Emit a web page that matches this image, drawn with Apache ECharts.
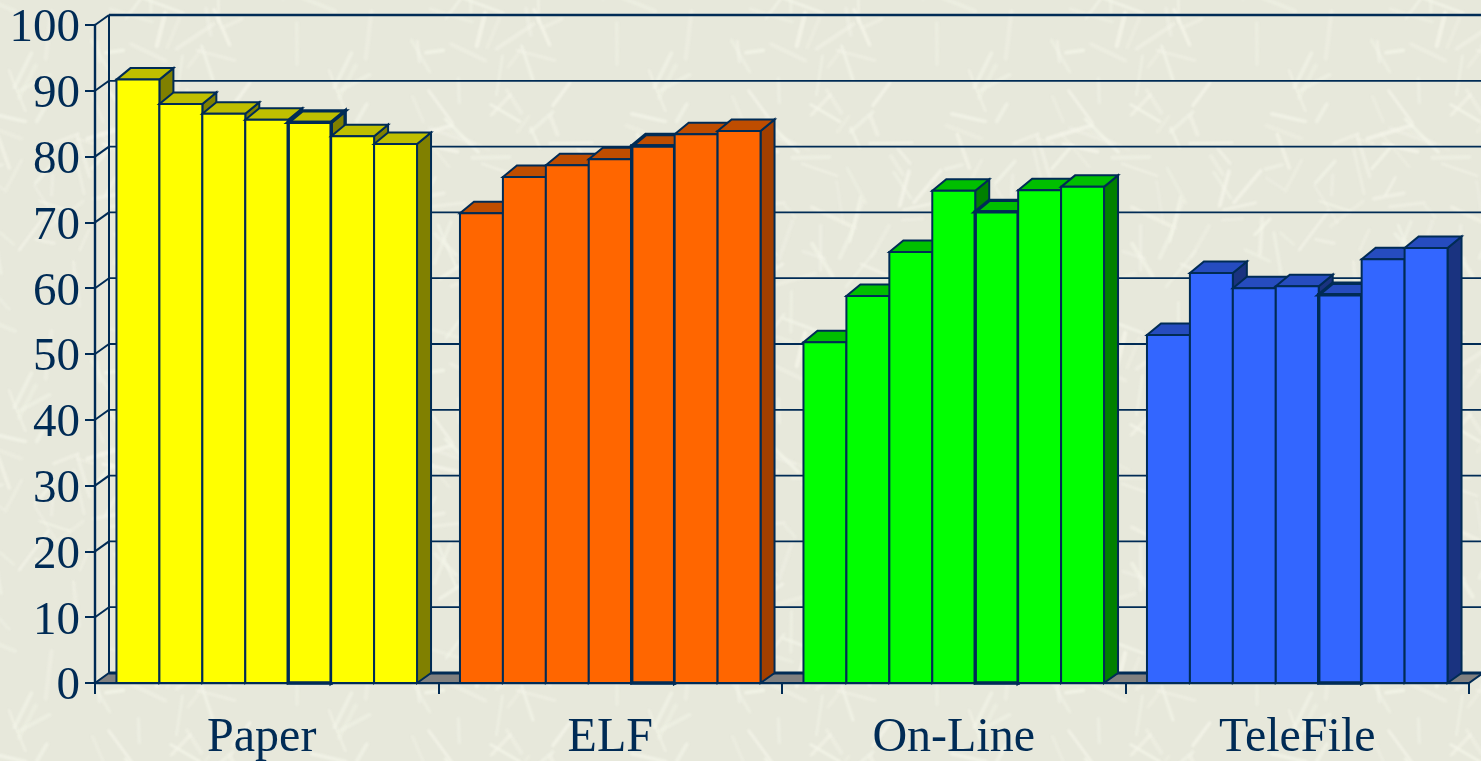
<!DOCTYPE html>
<html>
<head>
<meta charset="utf-8">
<style>html,body{margin:0;padding:0;background:#e9eadd;overflow:hidden}#c{width:1481px;height:761px}</style>
<script src="https://cdn.jsdelivr.net/npm/echarts@6/dist/echarts.min.js"></script>
</head>
<body>
<div id="c"></div>
<script>
var categories = ['Paper', 'ELF', 'On-Line', 'TeleFile'];
var paper = [91.7, 88.0, 86.5, 85.6, 85.2, 83.1, 81.9];
var elf = [71.4, 76.9, 78.7, 79.6, 81.6, 83.4, 83.9];
var onLine = [51.8, 58.8, 65.5, 74.8, 71.6, 74.9, 75.4];
var teleFile = [52.9, 62.3, 60.0, 60.3, 59.0, 64.4, 66.1];
var yTicks = [0, 10, 20, 30, 40, 50, 60, 70, 80, 90, 100];
var highlightedBar = 4;

var faceColors = [
  ['#FFFF00', '#BFBF00', '#808000'],
  ['#FF6600', '#BF4D00', '#A33F00'],
  ['#00FF00', '#00BF00', '#008000'],
  ['#3366FF', '#264CBF', '#1A3380']
];
var ink = '#002B55';
var depthX = 14, depthY = 10, barDepthY = 11.5;

// Decorative woven-stick wallpaper tile
function makeTile() {
  var size = 320, cv = document.createElement('canvas');
  cv.width = cv.height = size;
  var g = cv.getContext('2d');
  g.fillStyle = '#E7E8DB';
  g.fillRect(0, 0, size, size);
  var s = 12345;
  function r() { s = (s * 1103515 + 12345) % 2147483648; return s / 2147483648; }
  g.lineCap = 'round';
  g.filter = 'blur(1px)';
  for (var i = 0; i < 105; i++) {
    var x = r() * size, y = r() * size, a = r() * Math.PI * 2, l = 14 + r() * 34;
    g.strokeStyle = 'rgba(245,246,234,' + (0.3 + r() * 0.45) + ')';
    g.lineWidth = 2.5 + r() * 2;
    for (var ox = -size; ox <= size; ox += size) for (var oy = -size; oy <= size; oy += size) {
      g.beginPath();
      g.moveTo(x + ox, y + oy);
      g.lineTo(x + ox + Math.cos(a) * l, y + oy + Math.sin(a) * l);
      g.stroke();
    }
  }
  return cv;
}

function renderBar(params, api) {
  var cat = api.value(0), idx = api.value(1), val = api.value(2);
  var top = api.coord([cat, val]), base = api.coord([cat, 0]);
  var band = api.size([1, 0])[0], bw = band / 8;
  var x0 = top[0] - 3.5 * bw + idx * bw, x1 = x0 + bw;
  var yt = top[1], yb = base[1];
  var hi = idx === highlightedBar;
  var lw = hi ? 3.4 : 2;
  var c = faceColors[cat];
  var stroke = { stroke: ink, lineWidth: lw, lineJoin: 'miter' };
  return {
    type: 'group',
    children: [
      { type: 'polygon', shape: { points: [[x1, yb], [x1 + depthX, yb - depthY], [x1 + depthX, yt - barDepthY], [x1, yt]] },
        style: Object.assign({ fill: c[2] }, stroke) },
      { type: 'polygon', shape: { points: [[x0, yt], [x0 + depthX, yt - barDepthY], [x1 + depthX, yt - barDepthY], [x1, yt]] },
        style: Object.assign({ fill: c[1] }, stroke) },
      { type: 'rect', shape: { x: x0, y: yt, width: bw, height: yb - yt },
        style: Object.assign({ fill: c[0] }, stroke) }
    ]
  };
}

function renderWall(params, api) {
  var v = api.value(1);
  var cs = params.coordSys;
  var left = cs.x, right = cs.x + cs.width;
  var p = api.coord([0, v]);
  var y = p[1], children = [];
  if (v === 0) {
    children.push({ type: 'polygon', shape: { points: [[left, y], [left + depthX, y - depthY], [right + depthX, y - depthY], [right, y]] },
      style: { fill: '#808080', stroke: ink, lineWidth: 2 } });
    children.push({ type: 'line', shape: { x1: left + depthX, y1: y - depthY, x2: right + depthX, y2: y - depthY },
      style: { stroke: ink, lineWidth: 3 } });
    children.push({ type: 'line', shape: { x1: left + depthX, y1: y - depthY, x2: left + depthX, y2: cs.y - depthY },
      style: { stroke: ink, lineWidth: 2 } });
  } else {
    children.push({ type: 'line', shape: { x1: left + depthX, y1: y - depthY, x2: right + depthX, y2: y - depthY },
      style: { stroke: ink, lineWidth: v === 100 ? 2.4 : 1.8 } });
    children.push({ type: 'line', shape: { x1: left, y1: y, x2: left + depthX, y2: y - depthY },
      style: { stroke: ink, lineWidth: 2 } });
  }
  return { type: 'group', children: children };
}

function rows(cat, values) {
  return values.map(function (v, i) { return [cat, i, v]; });
}

var chart = echarts.init(document.getElementById('c'), null, { renderer: 'canvas', width: 1481, height: 761 });
var labelFont = { fontFamily: '"Liberation Serif", "Times New Roman", serif', color: ink };
chart.setOption({
  animation: false,
  backgroundColor: { image: makeTile(), repeat: 'repeat' },
  grid: { left: 95, top: 25, width: 1374, height: 658, containLabel: false, outerBoundsMode: 'none' },
  xAxis: {
    type: 'category', data: categories,
    axisLine: { lineStyle: { color: ink, width: 2.4 } },
    axisTick: { show: true, length: 11, lineStyle: { color: ink, width: 2 } },
    axisLabel: Object.assign({
      fontSize: 48, margin: 31,
      formatter: function (v) { return v === 'Paper' ? '{shift|' + v + '}' : v; },
      rich: { shift: { padding: [0, 10, 0, 0], fontSize: 48, fontFamily: labelFont.fontFamily, color: ink } }
    }, labelFont),
    splitLine: { show: false }
  },
  yAxis: {
    type: 'value', min: 0, max: 100, interval: 10,
    axisLine: { show: true, lineStyle: { color: ink, width: 2.4 } },
    axisTick: { show: true, length: 10, lineStyle: { color: ink, width: 2 } },
    axisLabel: Object.assign({
      fontSize: 47, margin: 15,
      formatter: function (v) { return '{t|' + v + '}'; },
      rich: { t: { padding: [8, 0, 0, 0], fontSize: 47, fontFamily: labelFont.fontFamily, color: ink } }
    }, labelFont),
    splitLine: { show: false }
  },
  series: [
    { type: 'custom', name: 'wall', renderItem: renderWall, silent: true, z: 1,
      encode: { x: 0, y: 1 }, data: yTicks.map(function (v) { return [0, v]; }) },
    { type: 'custom', name: categories[0], renderItem: renderBar, z: 3, encode: { x: 0, y: 2 }, data: rows(0, paper) },
    { type: 'custom', name: categories[1], renderItem: renderBar, z: 3, encode: { x: 0, y: 2 }, data: rows(1, elf) },
    { type: 'custom', name: categories[2], renderItem: renderBar, z: 3, encode: { x: 0, y: 2 }, data: rows(2, onLine) },
    { type: 'custom', name: categories[3], renderItem: renderBar, z: 3, encode: { x: 0, y: 2 }, data: rows(3, teleFile) }
  ]
});
</script>
</body>
</html>
